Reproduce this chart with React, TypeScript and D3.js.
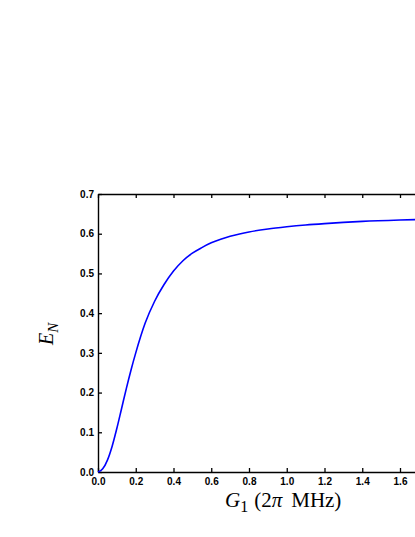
import React, { useEffect, useRef } from "react";
import * as d3 from "d3";

// coupling strength G1 (2π MHz) and entanglement E_N
const coupling = [
  0, 0.025, 0.05, 0.075, 0.1, 0.125, 0.15, 0.175, 0.2, 0.25, 0.3, 0.35, 0.4,
  0.45, 0.5, 0.55, 0.6, 0.65, 0.7, 0.75, 0.8, 0.9, 1.0, 1.1, 1.2, 1.4, 1.6,
  1.8, 2.0,
];
const entanglement = [
  0, 0.008, 0.03, 0.065, 0.11, 0.16, 0.21, 0.257, 0.3, 0.375, 0.43, 0.472,
  0.506, 0.532, 0.551, 0.565, 0.577, 0.586, 0.5935, 0.5995, 0.6045, 0.612,
  0.6175, 0.622, 0.6255, 0.631, 0.6345, 0.637, 0.6385,
];
const xTicks = [0, 0.2, 0.4, 0.6, 0.8, 1.0, 1.2, 1.4, 1.6, 1.8, 2.0];
const xTickLabels = [0, 0.2, 0.4, 0.6, 0.8, 1.0, 1.2, 1.4, 1.6];
const yTicks = [0, 0.1, 0.2, 0.3, 0.4, 0.5, 0.6, 0.7];

export default function App() {
  const svgRef = useRef<SVGSVGElement>(null);

  useEffect(() => {
    const left = 98;
    const top = 194;
    const bottom = 472;
    const right = left + 2 * 188.75;

    const svg = d3.select(svgRef.current);
    svg.selectAll("*").remove();

    const x = d3.scaleLinear().domain([0, 2]).range([left, right]);
    const y = d3.scaleLinear().domain([0, 0.7]).range([bottom, top]);

    const tickFont = (g: any) =>
      g
        .selectAll("text")
        .attr("font-family", "Liberation Sans, Arial, sans-serif")
        .attr("font-weight", "bold")
        .attr("font-size", "10px")
        .attr("fill", "#000");

    const styleAxis = (g: any) => {
      g.select(".domain").attr("stroke", "#000").attr("stroke-width", 1.4);
      g.selectAll(".tick line").attr("stroke", "#000").attr("stroke-width", 1.3);
    };

    // bottom axis, ticks point inward
    svg
      .append("g")
      .attr("transform", `translate(0,${bottom})`)
      .call(
        d3
          .axisBottom(x)
          .tickValues(xTicks)
          .tickFormat((d: any) => (xTickLabels.includes(d) ? d3.format(".1f")(d) : ""))
          .tickSizeInner(-4)
          .tickSizeOuter(0)
          .tickPadding(6)
      )
      .call(styleAxis)
      .call(tickFont);

    // top axis, no labels
    svg
      .append("g")
      .attr("transform", `translate(0,${top})`)
      .call(
        d3
          .axisTop(x)
          .tickValues(xTicks)
          .tickFormat(() => "")
          .tickSizeInner(-4)
          .tickSizeOuter(0)
      )
      .call(styleAxis);

    // left axis
    svg
      .append("g")
      .attr("transform", `translate(${left},0)`)
      .call(
        d3
          .axisLeft(y)
          .tickValues(yTicks)
          .tickFormat(d3.format(".1f"))
          .tickSizeInner(-4)
          .tickSizeOuter(0)
          .tickPadding(4)
      )
      .call(styleAxis)
      .call(tickFont);

    // right axis (off screen)
    svg
      .append("g")
      .attr("transform", `translate(${right},0)`)
      .call(
        d3
          .axisRight(y)
          .tickValues(yTicks)
          .tickFormat(() => "")
          .tickSizeInner(-4)
          .tickSizeOuter(0)
      )
      .call(styleAxis);

    const line = d3
      .line<number>()
      .x((d, i) => x(coupling[i]))
      .y((d) => y(d))
      .curve(d3.curveMonotoneX);

    svg
      .append("path")
      .datum(entanglement)
      .attr("d", line)
      .attr("fill", "none")
      .attr("stroke", "#0000ff")
      .attr("stroke-width", 1.6);

    // x axis title
    const xt = svg
      .append("text")
      .attr("x", 225)
      .attr("y", 507)
      .attr("font-family", "Liberation Serif, Times New Roman, serif")
      .attr("font-size", "21px")
      .attr("fill", "#000");
    xt.append("tspan").attr("font-style", "italic").text("G");
    xt.append("tspan").attr("font-size", "16px").attr("dy", 5).text("1");
    xt.append("tspan").attr("dy", -5).attr("dx", 6).text("(2");
    xt.append("tspan").attr("font-style", "italic").text("π");
    xt.append("tspan").attr("dx", 9).text("MHz)");

    // y axis title
    const yt = svg
      .append("text")
      .attr("transform", `translate(53,345) rotate(-90)`)
      .attr("font-family", "Liberation Serif, Times New Roman, serif")
      .attr("font-size", "20px")
      .attr("fill", "#000");
    yt.append("tspan").attr("font-style", "italic").text("E");
    yt.append("tspan").attr("font-style", "italic").attr("font-size", "15px").attr("dy", 5).text("N");
  }, []);

  return (
    <svg
      ref={svgRef}
      width={415}
      height={537}
      style={{ position: "absolute", left: 0, top: 0, background: "#fff", overflow: "hidden" }}
    />
  );
}
